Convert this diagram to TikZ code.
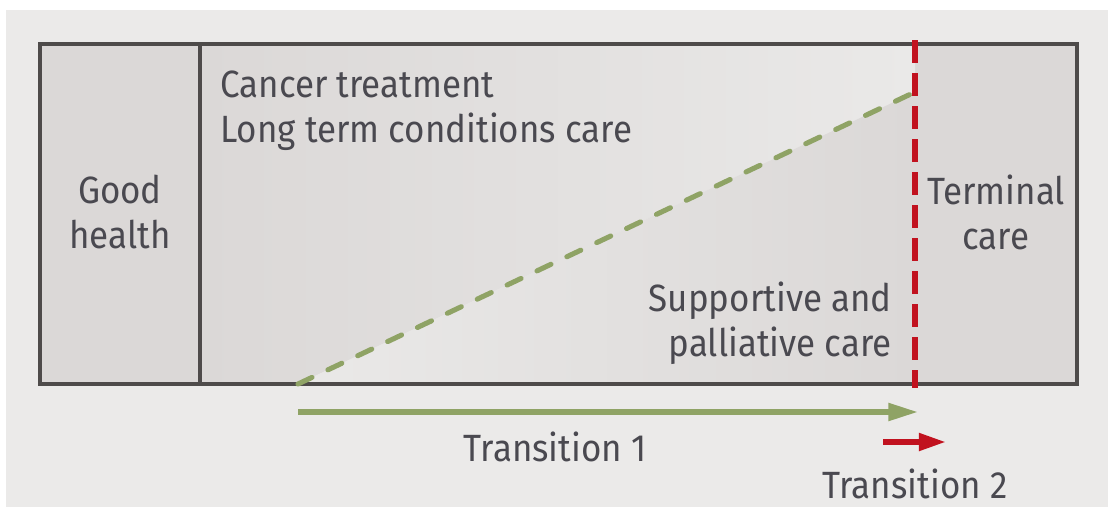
\documentclass[tikz,border=0pt]{standalone}
\usepackage{fontspec}
\setmainfont{Fira Sans}[FakeStretch=0.92]
\usetikzlibrary{arrows.meta,positioning,calc}
\definecolor{PageGray}{HTML}{EBEAE9}
\definecolor{BoxGray}{HTML}{DBD8D7}
\definecolor{LightGray}{HTML}{EAE9E8}
\definecolor{FrameGray}{HTML}{4E4B4A}
\definecolor{TextGray}{HTML}{4A4950}
\definecolor{CareGreen}{HTML}{8FA365}
\definecolor{CareRed}{HTML}{C1121F}

\begin{document}
\begin{tikzpicture}[x=0.025cm,y=-0.025cm,>=Triangle,every node/.style={font=\fontsize{27}{32}\selectfont, text=TextGray, align=center, inner sep=0pt}]
        \useasboundingbox (0,0) rectangle (1108,507);
        \fill[PageGray] (6,10) rectangle (1108,507);
        % boxes and the two shaded parts of the care band
        \fill[BoxGray] (40,44) rectangle (200,384);
        \fill[BoxGray] (915,44) rectangle (1077,384);
        \shade[left color=BoxGray, right color=LightGray] (200,44) -- (915,44) -- (915,92) -- (298,384) -- (200,384) -- cycle;
        \shade[left color=LightGray, right color=BoxGray] (298,384) -- (915,92) -- (915,384) -- cycle;
        \draw[FrameGray, line width=2.6pt] (40,44) rectangle (1077,384);
        \draw[FrameGray, line width=2.6pt] (200,44) -- (200,384);
        % dashed limits
        \coordinate (rise0) at (298,384);
        \coordinate (rise1) at (915,92);
        \coordinate (end0) at (915,40);
        \coordinate (end1) at (915,388);
        \draw[CareGreen, line width=3.6pt, line cap=round, dash pattern=on 11pt off 12.5pt] (rise0) -- (rise1);
        \draw[CareRed, line width=4.4pt, dash pattern=on 16pt off 7.5pt] (end0) -- (end1);
        % labels
        \node (good) at (120,212) {Good\\health};
        \node (terminal) at (996,212) {Terminal\\care};
        \node[anchor=north west, align=left] (cancer) at (220,71) {Cancer treatment\\Long term conditions care};
        \node[anchor=north east, align=right] (support) at (892,282) {Supportive and\\palliative care};
        % transitions
        \coordinate (t1a) at (298,412);
        \coordinate (t1b) at (918,412);
        \coordinate (t2a) at (883,442);
        \coordinate (t2b) at (947,442);
        \draw[->, CareGreen, line width=3.8pt, arrows={-Triangle[length=21pt,width=12pt]}] (t1a) -- (t1b);
        \draw[->, CareRed, line width=4.8pt, arrows={-Triangle[length=20pt,width=11.5pt]}] (t2a) -- (t2b);
        \node (trans1) at (555,447) {Transition 1};
        \node (trans2) at (915,484) {Transition 2};
    \end{tikzpicture}
\end{document}
